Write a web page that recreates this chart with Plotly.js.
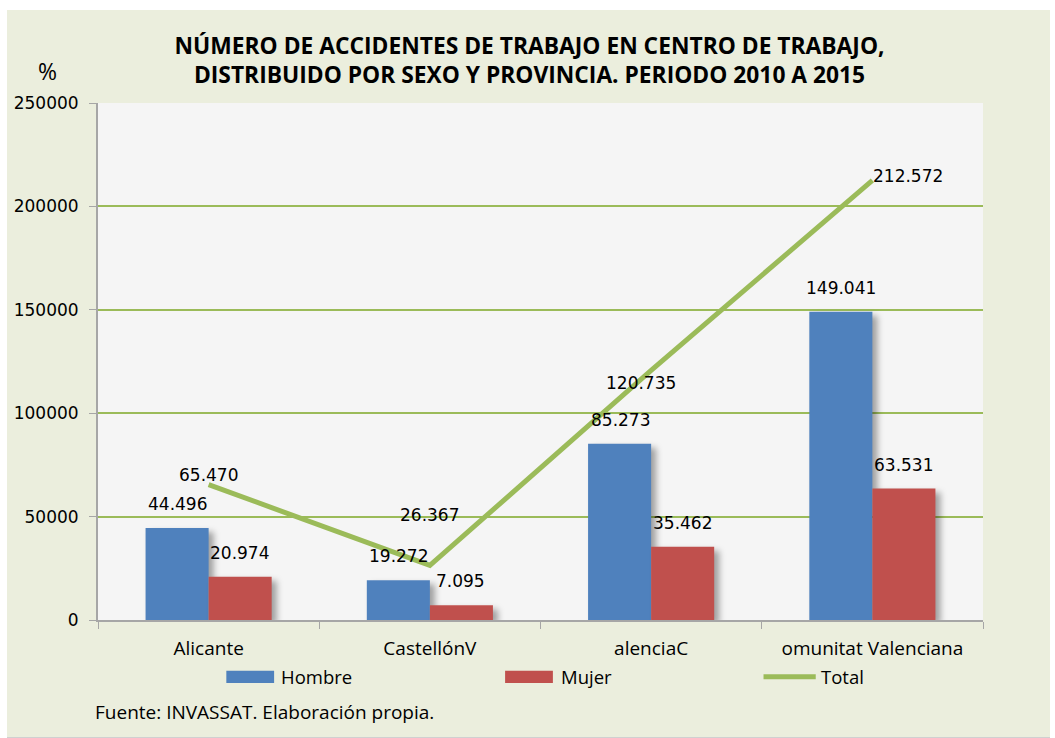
<!DOCTYPE html>
<html>
<head>
<meta charset="utf-8">
<script src="https://cdn.plot.ly/plotly-3.0.1.min.js"></script>
<style>
  body { margin: 0; background: #ffffff; }
  #chart {
    position: absolute; left: 7px; top: 10px;
    width: 1043px; height: 727px;
    background: #ebeedd;
    border-bottom: 2px solid #d0d0d0;
  }
  .barlayer .point path { filter: drop-shadow(5px 4px 3px rgba(0,0,0,0.35)); }
</style>
</head>
<body>
<div id="chart"></div>
<script>
// datos
var provincias = ['Alicante', 'CastellónV', 'alenciaC', 'omunitat Valenciana'];
var hombre = [44496, 19272, 85273, 149041];
var mujer = [20974, 7095, 35462, 63531];
var total = [65470, 26367, 120735, 212572];
var series = ['Hombre', 'Mujer', 'Total'];
var yTicks = [0, 50000, 100000, 150000, 200000, 250000];

var azul = '#4f81bd', rojo = '#c0504d', verde = '#9bbb59';

function miles(v) {
  return String(v).replace(/\B(?=(\d{3})+(?!\d))/g, '.');
}

var numFont = { family: 'DejaVu Sans', size: 17, color: '#000000' };
var txtFont = { family: 'Open Sans', size: 18.5, color: '#000000' };

var trHombre = {
  x: provincias, y: hombre, type: 'bar', name: series[0],
  marker: { color: azul }, hoverinfo: 'skip'
};
var trMujer = {
  x: provincias, y: mujer, type: 'bar', name: series[1],
  marker: { color: rojo }, hoverinfo: 'skip'
};
var trTotal = {
  x: provincias, y: total, type: 'scatter', mode: 'lines', name: series[2],
  line: { color: verde, width: 5 }, hoverinfo: 'skip'
};

var annotations = [];
// etiquetas de barras
provincias.forEach(function (p, i) {
  annotations.push({ x: p, y: hombre[i], text: miles(hombre[i]), showarrow: false,
    xshift: -31, yshift: 12, yanchor: 'bottom', font: numFont });
  annotations.push({ x: p, y: mujer[i], text: miles(mujer[i]), showarrow: false,
    xshift: 31, yshift: 12, yanchor: 'bottom', font: numFont });
});
// etiquetas de la linea total
var totShift = [[0, 10], [0, 50], [-10, -13], [36, 4]];
provincias.forEach(function (p, i) {
  annotations.push({ x: p, y: total[i], text: miles(total[i]), showarrow: false,
    xshift: totShift[i][0], yshift: totShift[i][1], font: numFont });
});

// "%" y fuente
annotations.push({ xref: 'paper', yref: 'paper', x: -0.07, y: 1.062, yanchor: 'middle',
  text: '%', showarrow: false, font: { family: 'Open Sans', size: 23, color: '#000' } });
annotations.push({ xref: 'paper', yref: 'paper', x: -0.0056, y: -0.178, xanchor: 'left',
  yanchor: 'middle', text: 'Fuente: INVASSAT. Elaboración propia.', showarrow: false,
  font: { family: 'Open Sans', size: 19, color: '#000' } });

// leyenda propia (rectangulos anchos como en el original)
var legX = [0.145, 0.460, 0.752];
var legY = -0.11;
var shapes = [
  { type: 'rect', xref: 'paper', yref: 'paper', x0: legX[0], x1: legX[0] + 0.054,
    y0: legY - 0.012, y1: legY + 0.012, fillcolor: azul, line: { width: 0 } },
  { type: 'rect', xref: 'paper', yref: 'paper', x0: legX[1], x1: legX[1] + 0.054,
    y0: legY - 0.012, y1: legY + 0.012, fillcolor: rojo, line: { width: 0 } },
  { type: 'line', xref: 'paper', yref: 'paper', x0: legX[2], x1: legX[2] + 0.059,
    y0: legY, y1: legY, line: { color: verde, width: 5 } }
];
var legTextX = [legX[0] + 0.059, legX[1] + 0.061, legX[2] + 0.063];
series.forEach(function (s, i) {
  annotations.push({ xref: 'paper', yref: 'paper', x: legTextX[i], y: legY, xanchor: 'left',
    yanchor: 'middle', text: s, showarrow: false, font: txtFont });
});

var layout = {
  width: 1043, height: 727,
  margin: { l: 91, r: 67, t: 93, b: 117 },
  paper_bgcolor: 'rgba(0,0,0,0)',
  plot_bgcolor: '#f5f5f5',
  showlegend: false,
  barmode: 'group',
  bargap: 0.43,
  bargroupgap: 0,
  title: {
    text: 'NÚMERO DE ACCIDENTES DE TRABAJO EN CENTRO DE TRABAJO,<br>DISTRIBUIDO POR SEXO Y PROVINCIA. PERIODO 2010 A 2015',
    font: { family: 'Open Sans', size: 22.8, color: '#000', weight: 'bold' },
    xref: 'container', yref: 'container', x: 0.501, y: 0.94,
    xanchor: 'center', yanchor: 'middle'
  },
  xaxis: {
    type: 'category',
    showline: true, linecolor: '#a6a6a6', linewidth: 2,
    ticks: 'outside', tickson: 'boundaries', ticklen: 7, tickcolor: '#a6a6a6', tickwidth: 1,
    showgrid: false,
    tickfont: { family: 'Open Sans', size: 19, color: '#000' },
    ticklabelstandoff: 10
  },
  yaxis: {
    range: [0, 250000],
    tickvals: yTicks, tickformat: 'd',
    showline: true, linecolor: '#a6a6a6', linewidth: 2,
    ticks: 'outside', ticklen: 7, tickcolor: '#a6a6a6',
    gridcolor: verde, gridwidth: 2,
    zeroline: false,
    tickfont: { family: 'DejaVu Sans', size: 17, color: '#000' },
    ticklabelstandoff: 7
  },
  annotations: annotations,
  shapes: shapes
};

Plotly.newPlot('chart', [trHombre, trMujer, trTotal], layout, { displayModeBar: false });
</script>
</body>
</html>
